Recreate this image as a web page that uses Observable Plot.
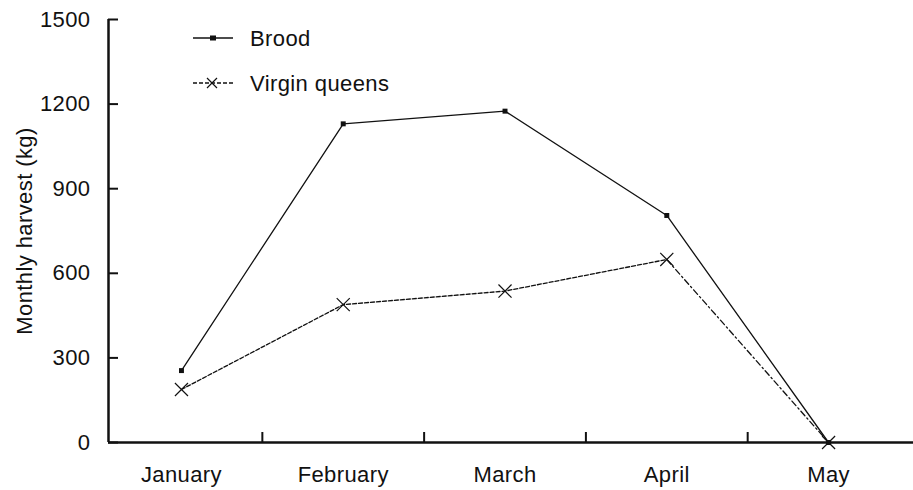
<!DOCTYPE html>
<html>
<head>
<meta charset="utf-8">
<script src="https://cdn.jsdelivr.net/npm/d3@7"></script>
<script src="https://cdn.jsdelivr.net/npm/@observablehq/plot@0.6"></script>
<style>
  html, body { margin: 0; padding: 0; background: #fff; }
  #wrap { position: relative; width: 913px; height: 490px; }
  #legend { position: absolute; left: 0; top: 0; }
  svg text { font-family: "Liberation Sans", Arial, sans-serif; letter-spacing: 0.4px; }
</style>
</head>
<body>
<div id="wrap"></div>
<script>
const months = ["January", "February", "March", "April", "May"];
const brood = [255, 1130, 1175, 805, 0];
const virgin = [188, 489, 537, 649, 0];
const yTicks = [0, 300, 600, 900, 1200, 1500];
const seriesNames = ["Brood", "Virgin queens"];

const broodData = months.map((m, i) => ({i, month: m, v: brood[i]}));
const virginData = months.map((m, i) => ({i, month: m, v: virgin[i]}));
const n = months.length;

const font = "Liberation Sans, Arial, sans-serif";

const chart = Plot.plot({
  width: 913,
  height: 490,
  marginLeft: 108,
  marginRight: 0,
  marginTop: 19,
  marginBottom: 48,
  style: {fontFamily: font, fontSize: "22px", color: "#111", background: "#fff"},
  x: {domain: [-0.451, n - 1 + 0.525]},
  y: {domain: [0, 1500]},
  marks: [
    Plot.axisY({ticks: yTicks, tickFormat: d => String(d), tickSize: 0, tickPadding: 18, label: "Monthly harvest (kg)", labelAnchor: "center", labelArrow: "none", labelOffset: 92, fontSize: 22}),
    Plot.axisY({ticks: yTicks, tickSize: -10, text: null, label: null, strokeWidth: 2}),
    Plot.axisX({ticks: d3.range(n), tickFormat: i => months[i], tickSize: 0, tickPadding: 24, label: null, fontSize: 22}),
    Plot.axisX({ticks: d3.range(n - 1).map(i => i + 0.5), tickSize: -10, text: null, label: null, strokeWidth: 2}),
    Plot.ruleX([0], {x: () => -0.451, stroke: "#111", strokeWidth: 2.5}),
    Plot.ruleY([0], {stroke: "#111", strokeWidth: 2.5}),
    Plot.line(broodData, {x: "i", y: "v", stroke: "#111", strokeWidth: 1.3}),
    Plot.line(virginData.filter(d => d.i <= n - 2), {x: "i", y: "v", stroke: "#111", strokeWidth: 1.3, strokeDasharray: "4,2"}),
    Plot.line(virginData.filter(d => d.i >= n - 2), {x: "i", y: "v", stroke: "#111", strokeWidth: 1.3, strokeDasharray: "6,3,1.5,3"}),
    Plot.dot(broodData, {x: "i", y: "v", symbol: "square", r: 2.8, fill: "#111", stroke: "none"}),
    Plot.dot(virginData, {x: "i", y: "v", symbol: "times", r: 6, stroke: "#111", strokeWidth: 1.2})
  ]
});

document.getElementById("wrap").appendChild(chart);

// Legend overlay
const leg = d3.select("#wrap").append("svg")
  .attr("id", "legend").attr("width", 913).attr("height", 110);
const entries = [
  {name: seriesNames[0], dash: null, marker: "square"},
  {name: seriesNames[1], dash: "4,2", marker: "times"}
];
entries.forEach((e, k) => {
  const y = 38 + k * 45;
  const g = leg.append("g").attr("transform", `translate(193,${y})`);
  g.append("line").attr("x1", 0).attr("x2", 40).attr("y1", 0).attr("y2", 0)
    .attr("stroke", "#111").attr("stroke-width", 1.3)
    .attr("stroke-dasharray", e.dash);
  if (e.marker === "square") {
    g.append("rect").attr("x", 17).attr("y", -2.5).attr("width", 6).attr("height", 5).attr("fill", "#111");
  } else {
    g.append("path").attr("d", "M15,-5L25,5M15,5L25,-5").attr("stroke", "#111").attr("stroke-width", 1.2).attr("transform", "translate(-1,0)");
  }
  g.append("text").attr("x", 57).attr("y", 0).attr("dy", "0.35em")
    .attr("font-size", 22).attr("fill", "#111").text(e.name);
});
</script>
</body>
</html>
